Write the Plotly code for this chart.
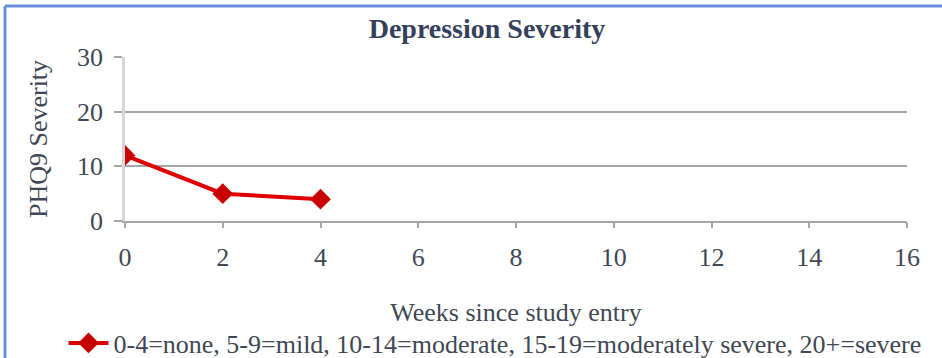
import plotly.graph_objects as go

# PHQ-9 scores recorded at follow-up visits
weeks = [0, 2, 4]
phq9 = [12, 5, 4]

x_ticks = [0, 2, 4, 6, 8, 10, 12, 14, 16]
y_ticks = [0, 10, 20, 30]

series_name = "0-4=none, 5-9=mild, 10-14=moderate, 15-19=moderately severe, 20+=severe"
chart_title = "Depression Severity"
x_title = "Weeks since study entry"
y_title = "PHQ9 Severity"

W, H = 942, 358
L, R, T, B = 125, 35, 57, 137
plot_w = W - L - R
plot_h = H - T - B

FONT = "Liberation Serif"
TEXT = "#3f4854"

def px_x(p):
    return (p - L) / plot_w

def px_y(p):
    return (H - B - p) / plot_h

fig = go.Figure()
fig.add_trace(go.Scatter(
    x=weeks, y=phq9, mode="lines+markers", name=series_name,
    line=dict(color="#e00000", width=4),
    marker=dict(symbol="diamond", size=16, color="#c80000",
                line=dict(color="#c80000", width=0)),
))

fig.update_layout(
    width=W, height=H,
    margin=dict(l=L, r=R, t=T, b=B, autoexpand=False),
    paper_bgcolor="white", plot_bgcolor="white",
    font=dict(family=FONT, color=TEXT),
    title=dict(text="<b>" + chart_title + "</b>", x=487 / W, xanchor="center",
               y=1 - 28 / H, yanchor="middle",
               font=dict(size=28, color="#35415a", family=FONT)),
    showlegend=True,
    legend=dict(orientation="h", x=px_x(495), xanchor="center",
                y=px_y(343), yanchor="middle",
                font=dict(size=26, color=TEXT, family=FONT),
                bgcolor="rgba(0,0,0,0)", itemwidth=40),
    xaxis=dict(range=[0, 16], tickvals=x_ticks, showgrid=False, zeroline=False,
               showline=True, linecolor="#a6a6a6", linewidth=1.5,
               ticks="outside", ticklen=5, tickcolor="#a6a6a6", tickwidth=1.5,
               tickfont=dict(size=26, color=TEXT, family=FONT),
               ticklabelstandoff=7,
               title=dict(text=x_title, standoff=32,
                          font=dict(size=26, color=TEXT, family=FONT)),
               automargin=False),
    yaxis=dict(range=[0, 30], tickvals=y_ticks, showgrid=True,
               gridcolor="#a6a6a6", gridwidth=1.5, zeroline=False,
               showline=True, linecolor="#d6d6d6", linewidth=2.5,
               ticks="outside", ticklen=8, tickcolor="#a6a6a6", tickwidth=1.5,
               tickfont=dict(size=26, color=TEXT, family=FONT),
               ticklabelstandoff=6,
               title=dict(text=y_title, standoff=22,
                          font=dict(size=26, color=TEXT, family=FONT)),
               automargin=False),
)

# Blue frame along the top and left edges of the chart area
frame = "#6a8fdc"
fig.add_shape(type="line", xref="paper", yref="paper",
              x0=px_x(5), x1=px_x(W + 5), y0=px_y(6), y1=px_y(6),
              line=dict(color=frame, width=3))
fig.add_shape(type="line", xref="paper", yref="paper",
              x0=px_x(5), x1=px_x(5), y0=px_y(6), y1=px_y(H + 5),
              line=dict(color=frame, width=3))

fig.write_html("out.html")
